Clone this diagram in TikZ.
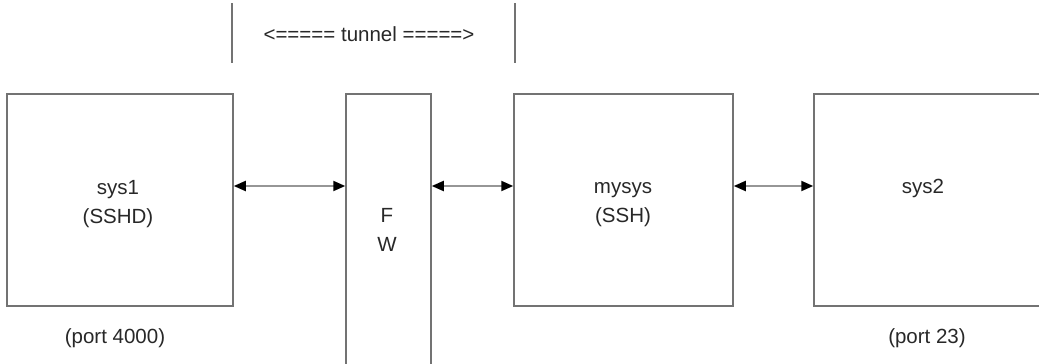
\documentclass[tikz,border=0pt]{standalone}
\usepackage{fontspec}
\setmainfont{Liberation Sans}
\usetikzlibrary{arrows.meta}
\definecolor{boxline}{RGB}{115,115,115}
\definecolor{arrline}{RGB}{150,150,150}
\definecolor{txt}{RGB}{40,40,40}
\begin{document}
\begin{tikzpicture}[x=1pt,y=-1pt,
  sysbox/.style={draw=boxline,line width=1.5pt,rectangle,inner sep=0pt,fill=white},
  lbl/.style={anchor=base,inner sep=0pt,text=txt,font=\fontsize{20.5}{24}\selectfont},
  link/.style={draw=arrline,line width=2pt,{Triangle[length=12pt,width=10pt,color=black]}-{Triangle[length=12pt,width=10pt,color=black]}},
  tick/.style={draw=boxline,line width=1.3pt}]
\useasboundingbox (0,0) rectangle (1039,364);
\clip (0,0) rectangle (1039,364);
\fill[white] (0,0) rectangle (1039,364);
% boxes
\node[sysbox,minimum width=226pt,minimum height=212pt] (sys1) at (120,200) {};
\node[sysbox,minimum width=85pt,minimum height=320pt] (fw) at (388.5,254) {};
\node[sysbox,minimum width=219pt,minimum height=212pt] (mysys) at (623.5,200) {};
\node[sysbox,minimum width=246pt,minimum height=212pt] (sys2) at (937,200) {};
% labels
\node[lbl] (t1a) at (118,194) {sys1};
\node[lbl] (t1b) at (118,223) {(SSHD)};
\node[lbl] (t1c) at (115,343) {(port 4000)};
\node[lbl] (tfa) at (387,222) {F};
\node[lbl] (tfb) at (387,251) {W};
\node[lbl] (tma) at (623,193) {mysys};
\node[lbl] (tmb) at (623,222) {(SSH)};
\node[lbl] (t2a) at (923,193) {sys2};
\node[lbl] (t2c) at (927,343) {(port 23)};
% tunnel
\coordinate (la) at (232,3);
\coordinate (lb) at (232,63);
\coordinate (ra) at (515,3);
\coordinate (rb) at (515,63);
\draw[tick] (la) -- (lb);
\draw[tick] (ra) -- (rb);
\node[lbl] (tun) at (369,41) {<===== tunnel =====>};
% links
\coordinate (ay) at (0,186);
\draw[link] (sys1.east |- ay) -- (fw.west |- ay);
\draw[link] (fw.east |- ay) -- (mysys.west |- ay);
\draw[link] (mysys.east |- ay) -- (sys2.west |- ay);
\end{tikzpicture}
\end{document}
